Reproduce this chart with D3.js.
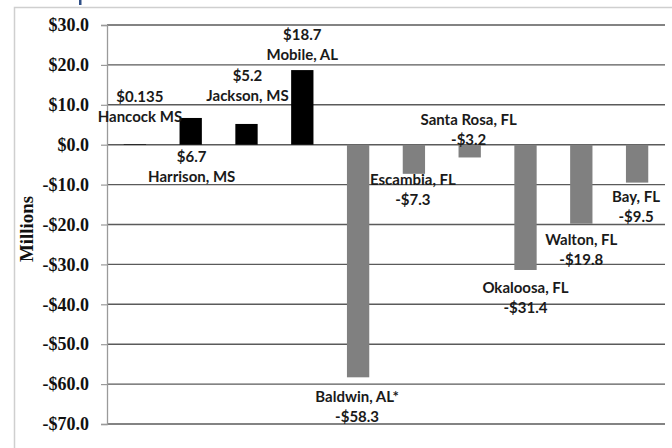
<!DOCTYPE html>
<html>
<head>
<meta charset="utf-8">
<script src="https://cdn.jsdelivr.net/npm/d3@7/dist/d3.min.js"></script>
<style>
  html, body { margin: 0; padding: 0; background: #fff; }
  svg { display: block; }
</style>
</head>
<body>
<svg id="chart" width="672" height="448"></svg>
<script>
// County-level change, millions of dollars
const counties = ["Hancock MS", "Harrison, MS", "Jackson, MS", "Mobile, AL", "Baldwin, AL*",
                  "Escambia, FL", "Santa Rosa, FL", "Okaloosa, FL", "Walton, FL", "Bay, FL"];
const values = [0.135, 6.7, 5.2, 18.7, -58.3, -7.3, -3.2, -31.4, -19.8, -9.5];
const valueLabels = ["$0.135", "$6.7", "$5.2", "$18.7", "-$58.3", "-$7.3", "-$3.2", "-$31.4", "-$19.8", "-$9.5"];
const yTicks = [30, 20, 10, 0, -10, -20, -30, -40, -50, -60, -70];
const yTickLabels = ["$30.0", "$20.0", "$10.0", "$0.0", "-$10.0", "-$20.0", "-$30.0", "-$40.0", "-$50.0", "-$60.0", "-$70.0"];

// Where each two-line label block starts (axis units) and its horizontal nudge (px)
const labelTop = [12.0, -3.1, 17.2, 27.7, -63.2, -8.85, 6.4, -35.7, -23.9, -13.1];
const labelDx = [5, 1, 1, 0, -1, -1, -1, 0, 0, -1];

const svg = d3.select("#chart");

// outer frame
svg.append("path")
  .attr("d", "M14.5,448 L14.5,7.5 L672,7.5")
  .attr("fill", "none").attr("stroke", "#cfcfcf").attr("stroke-width", 1.5);

// fragment of a heading above the frame
svg.append("rect").attr("x", 79).attr("y", 0).attr("width", 2.5).attr("height", 5).attr("fill", "#2f4f86");

const x = d3.scaleBand().domain(counties).range([107, 665]).paddingInner(0.6).paddingOuter(0.3);
const y = d3.scaleLinear().domain([-70, 30]).range([424, 25]);

// gridlines
svg.append("g")
  .selectAll("line").data(yTicks).join("line")
  .attr("x1", 107).attr("x2", 665)
  .attr("y1", d => y(d)).attr("y2", d => y(d))
  .attr("stroke", "#5a5a5a").attr("stroke-width", 1.4);

// value axis with outward ticks
const axis = d3.axisLeft(y).tickValues(yTicks).tickSize(6).tickPadding(12)
  .tickFormat((d, i) => yTickLabels[i]);
const gAxis = svg.append("g").attr("transform", "translate(107,0)").call(axis);
gAxis.select(".domain").attr("stroke", "#9a9a9a").attr("stroke-width", 1.3);
gAxis.selectAll(".tick line").attr("stroke", "#9a9a9a").attr("stroke-width", 1.2);
gAxis.selectAll(".tick text")
  .attr("font-family", "'Liberation Serif', 'Times New Roman', serif")
  .attr("font-weight", "bold").attr("font-size", 18).attr("fill", "#111");

// axis title
svg.append("text")
  .attr("transform", "translate(33,229) rotate(-90)")
  .attr("text-anchor", "middle")
  .attr("font-family", "'Liberation Serif', 'Times New Roman', serif")
  .attr("font-weight", "bold").attr("font-size", 18).attr("fill", "#111")
  .attr("textLength", 66).attr("lengthAdjust", "spacingAndGlyphs")
  .text("Millions");

// bars
svg.append("g")
  .selectAll("rect").data(counties).join("rect")
  .attr("x", d => x(d))
  .attr("width", x.bandwidth())
  .attr("y", (d, i) => y(Math.max(0, values[i])))
  .attr("height", (d, i) => Math.abs(y(values[i]) - y(0)))
  .attr("fill", (d, i) => values[i] >= 0 ? "#000" : "#808080");

// labels: value above name for gains, name above value for losses
const lab = svg.append("g")
  .attr("font-family", "Lato, 'Open Sans', sans-serif")
  .attr("font-weight", "bold").attr("font-size", 15).attr("fill", "#1a1a1a")
  .attr("text-anchor", "middle");

counties.forEach((c, i) => {
  const cx = x(c) + x.bandwidth() / 2 + labelDx[i];
  const top = y(labelTop[i]);
  const lines = values[i] >= 0 ? [valueLabels[i], c] : [c, valueLabels[i]];
  lines.forEach((t, k) => {
    lab.append("text")
      .attr("x", cx).attr("y", top + k * 20)
      .attr("dy", "0.36em")
      .text(t);
  });
});
</script>
</body>
</html>
